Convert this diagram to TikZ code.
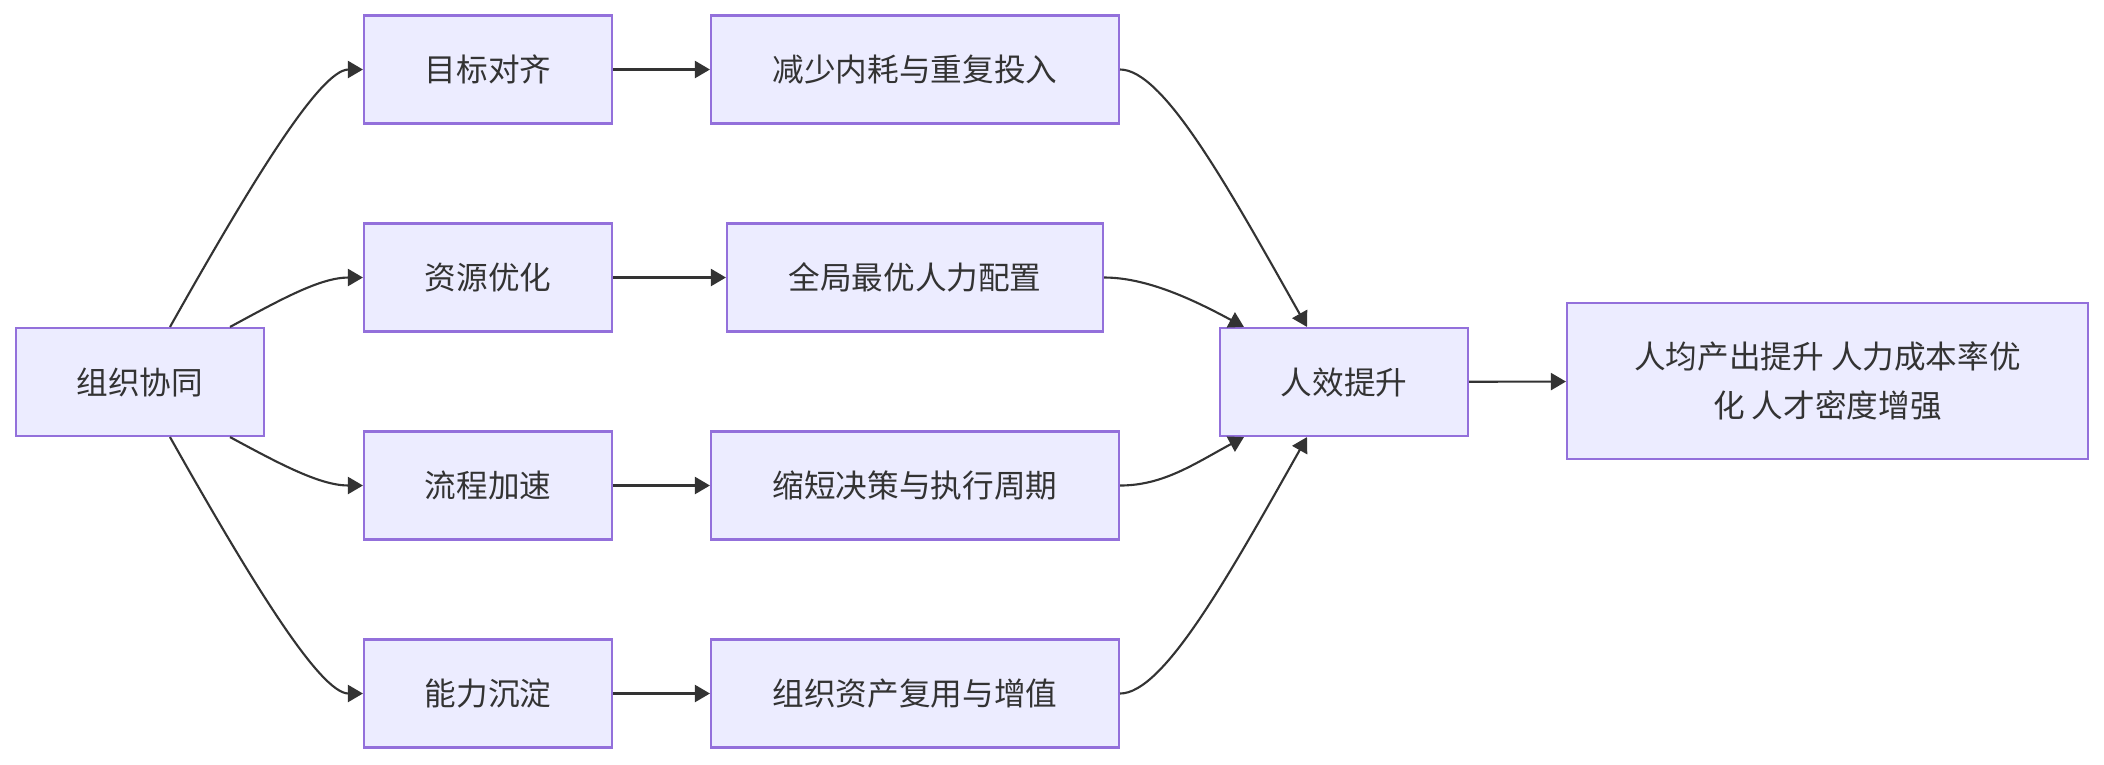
\documentclass[tikz,border=0pt]{standalone}
\usepackage{fontspec}
\newfontfamily\cjk{Noto Sans CJK SC}
\usepackage{tikz}
\usetikzlibrary{arrows.meta,positioning,calc}
\definecolor{Ink}{HTML}{333333}
\definecolor{Lilac}{HTML}{ECECFF}
\definecolor{LilacEdge}{HTML}{9370DB}
\tikzset{
  flow/.style={draw=LilacEdge,line width=0.6pt,fill=Lilac,minimum width=2.48cm,minimum height=1.08cm,inner sep=0pt,align=center,text=Ink,font=\cjk\fontsize{9}{13.9}\selectfont},
  flowwide/.style={flow,minimum width=4.08cm},
  arrow/.style={-{Triangle[length=1.5mm,width=1.7mm]},line width=0.6pt,draw=Ink}
}
\begin{document}
\begin{tikzpicture}
\useasboundingbox (0,0) rectangle (21.04,-7.64);
% source and levers
\node[flow] (org) at (1.40,-3.82) {组织协同};
\node[flow] (goal) at (4.88,-0.695) {目标对齐};
\node[flow] (res) at (4.88,-2.775) {资源优化};
\node[flow] (proc) at (4.88,-4.855) {流程加速};
\node[flow] (cap) at (4.88,-6.935) {能力沉淀};
% effects
\node[flowwide] (waste) at (9.15,-0.695) {减少内耗与重复投入};
\node[flowwide,minimum width=3.76cm] (alloc) at (9.15,-2.775) {全局最优人力配置};
\node[flowwide] (cycle) at (9.15,-4.855) {缩短决策与执行周期};
\node[flowwide] (asset) at (9.15,-6.935) {组织资产复用与增值};
% result
\node[flow] (eff) at (13.44,-3.82) {人效提升};
\node[flow,minimum width=5.21cm,minimum height=1.56cm] (out) at (18.275,-3.81) {人均产出提升 人力成本率优\\化 人才密度增强};
\draw[arrow] ($(org.north)+(0.30,0)$) .. controls +(0.80,1.42) and +(-0.43,0) .. (goal.west);
\draw[arrow] ($(org.north)+(0.90,0)$) .. controls +(0.50,0.27) and +(-0.43,0) .. (res.west);
\draw[arrow] ($(org.south)+(0.90,0)$) .. controls +(0.50,-0.27) and +(-0.43,0) .. (proc.west);
\draw[arrow] ($(org.south)+(0.30,0)$) .. controls +(0.80,-1.42) and +(-0.43,0) .. (cap.west);
\draw[arrow] (goal) -- (waste);
\draw[arrow] (res) -- (alloc);
\draw[arrow] (proc) -- (cycle);
\draw[arrow] (cap) -- (asset);
\draw[arrow] (waste.east) .. controls +(0.43,0) and +(-0.80,1.42) .. ($(eff.north)+(-0.37,0)$);
\draw[arrow] (alloc.east) .. controls +(0.43,0) and +(-0.50,0.27) .. ($(eff.north west)+(0.25,0)$);
\draw[arrow] (cycle.east) .. controls +(0.43,0) and +(-0.50,-0.27) .. ($(eff.south west)+(0.25,0)$);
\draw[arrow] (asset.east) .. controls +(0.43,0) and +(-0.80,-1.42) .. ($(eff.south)+(-0.37,0)$);
\draw[arrow] (eff) -- (out);
\end{tikzpicture}
\end{document}
